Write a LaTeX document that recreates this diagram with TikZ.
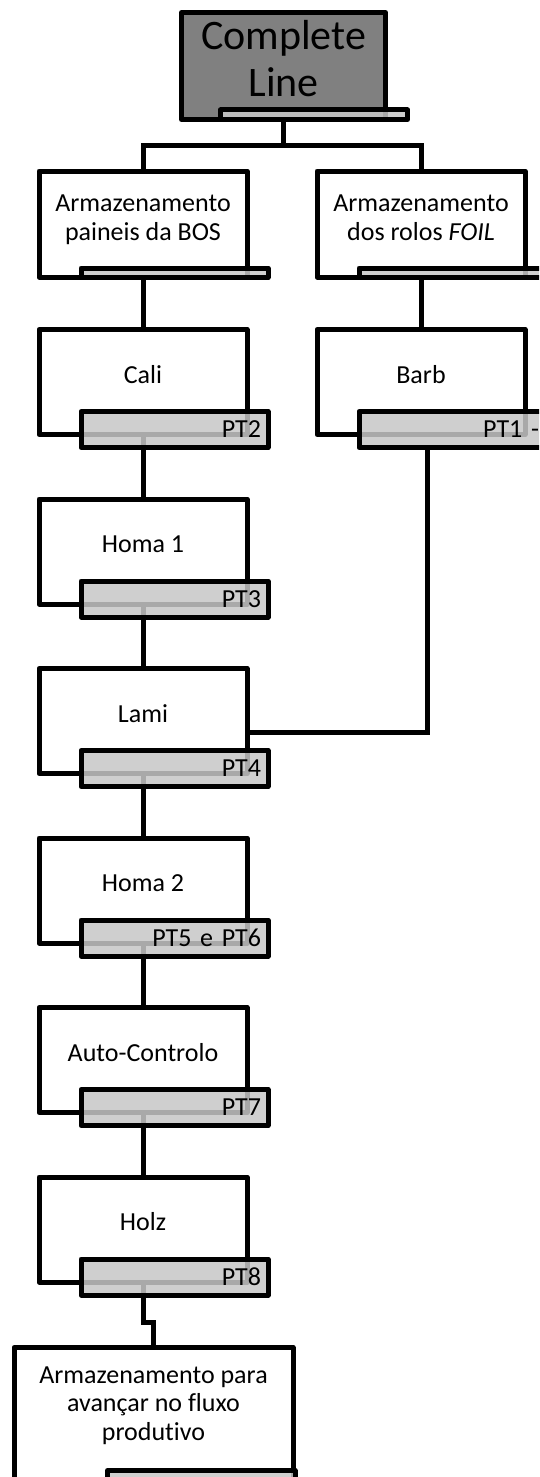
\documentclass[tikz,border=0pt]{standalone}
\usepackage{fontspec}
\setmainfont[Ligatures=NoCommon]{Carlito}
\usetikzlibrary{positioning,backgrounds}

\tikzset{
  box/.style={draw, line width=5pt, line join=round, fill=white, anchor=north west,
    minimum width=208pt, minimum height=105pt, inner sep=0pt, outer sep=0pt},
  tab/.style={draw, line width=5pt, line join=round, fill=black!22, fill opacity=.85,
    text opacity=1, anchor=north west, minimum width=187pt, minimum height=36pt,
    inner ysep=0pt, inner xsep=7pt, text width=173pt, align=right, outer sep=0pt,
    font=\fontsize{26}{28.3}\selectfont},
  thintab/.style={tab, minimum height=9.5pt},
  lbl/.style={font=\fontsize{26}{28.3}\selectfont, align=center, anchor=base, inner sep=0pt},
  link/.style={line width=5pt}
}

\begin{document}
\begin{tikzpicture}[x=1pt, y=-1pt]
\useasboundingbox (0,0) rectangle (539,1477);
\clip (0,0) rectangle (539,1477);

% head of the line (base of a multi-line node = its last line)
\node[box, fill=black!50, minimum width=204pt, minimum height=107pt] (line) at (181.5,12.5) {};
\node[lbl, font=\fontsize{42}{46.7}\selectfont] (line-txt) at (283.5,96.7) {Complete\\Line};
\node[thintab] (line-pt) at (220.5,110) {};

% storage
\node[box, minimum height=106pt] (bos) at (39,171) {};
\node[lbl] (bos-txt) at ([yshift=-69pt]bos.north) {Armazenamento\\paineis da BOS};
\node[thintab] (bos-pt) at (81,268) {};
\node[box, minimum height=106pt] (foil) at (317,171) {};
\node[lbl] (foil-txt) at ([yshift=-69pt]foil.north) {Armazenamento\\dos rolos \textit{FOIL}};
\node[thintab] (foil-pt) at (359,268) {};

% main line
\foreach \name/\txt/\pt [count=\i] in {cali/Cali/PT2, homa1/Homa 1/PT3, lami/Lami/PT4,
    homa2/Homa 2/PT5 e PT6, auto/Auto-Controlo/PT7, holz/Holz/PT8} {
  \pgfmathsetmacro\ytop{329.5+169.5*(\i-1)}
  \node[box] (\name) at (39,\ytop) {};
  \node[lbl] (\name-txt) at ([yshift=-53.5pt]\name.north) {\txt};
  \node[tab] (\name-pt) at ([xshift=42pt, yshift=23pt]\name.south west) {\pt};
}

% foil branch
\node[box] (barb) at (317,329.5) {};
\node[lbl] (barb-txt) at ([yshift=-53.5pt]barb.north) {Barb};
\node[tab] (barb-pt) at ([xshift=42pt, yshift=23pt]barb.south west) {PT1 -};

% end storage
\node[box, minimum width=279pt, minimum height=146pt] (fluxo) at (14,1347.5) {};
\node[lbl] (fluxo-txt) at ([yshift=-92.6pt]fluxo.north) {Armazenamento para\\avançar no fluxo\\produtivo};
\node[tab, minimum width=187.5pt] (fluxo-pt) at (107.5,1470.5) {};

\begin{scope}[on background layer]
  \draw[link] (line.south) -- ++(0,26) -| (bos.north);
  \draw[link] (line.south) -- ++(0,26) -| (foil.north);
  \draw[link] (bos.south) -- (cali.north);
  \foreach \a/\b in {cali/homa1, homa1/lami, lami/homa2, homa2/auto, auto/holz}
    \draw[link] (\a.south) -- (\b.north);
  \draw[link] (holz.south) -- ++(0,40) -| (fluxo.north);
  \draw[link] (foil.south) -- (barb.north);
  \coordinate (elbow) at (427,732.5);
  \draw[link] (elbow |- barb-pt.south) -- (elbow) -- (elbow -| lami.east);
\end{scope}
\end{tikzpicture}
\end{document}
